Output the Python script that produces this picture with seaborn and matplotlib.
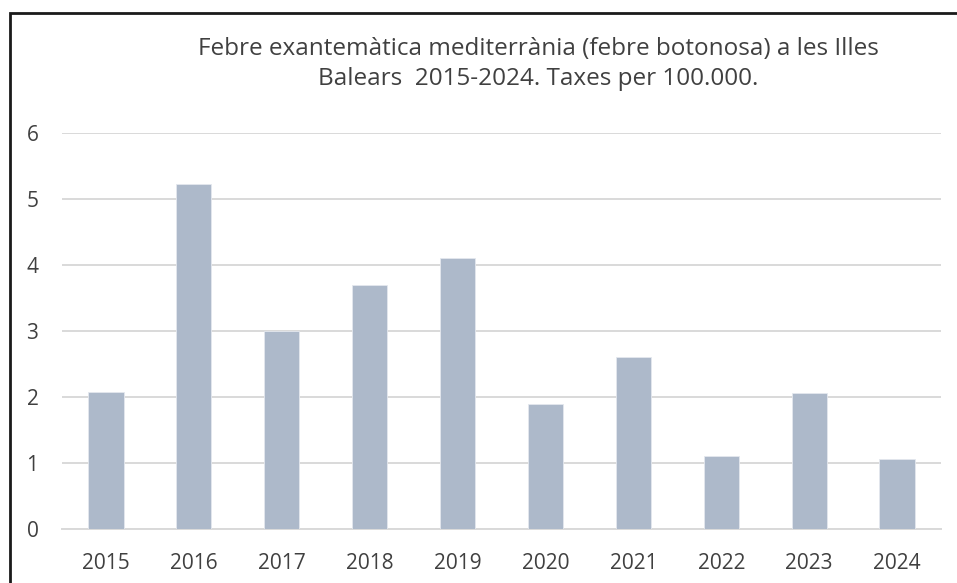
import pandas as pd
import matplotlib.pyplot as plt
import seaborn as sns
from matplotlib.patches import Rectangle

years = ['2015', '2016', '2017', '2018', '2019', '2020', '2021', '2022', '2023', '2024']
rates = [2.08, 5.23, 3.0, 3.69, 4.1, 1.9, 2.61, 1.1, 2.06, 1.06]

title = ('Febre exantemàtica mediterrània (febre botonosa) a les Illes\n'
         'Balears  2015-2024. Taxes per 100.000.')

sns.set_style('white')
plt.rcParams['font.family'] = ['Open Sans', 'DejaVu Sans']

df = pd.DataFrame({'year': years, 'rate': rates})

fig = plt.figure(figsize=(9.57, 5.83), dpi=100)
ax = fig.add_axes([62 / 957, 1 - 529 / 583, 879 / 957, 396 / 583])

sns.barplot(data=df, x='year', y='rate', color='#adb9ca', saturation=1,
            width=0.4, ax=ax, zorder=3, edgecolor='#e4e8ee', linewidth=0.6)

ax.set_ylim(0, 6)
ax.set_yticks(range(0, 7))
ax.set_xlim(-0.5, len(years) - 0.5)
ax.grid(axis='y', color='#d9d9d9', linewidth=1.4, zorder=0)
ax.set_xlabel('')
ax.set_ylabel('')
for side in ['top', 'right', 'left']:
    ax.spines[side].set_visible(False)
ax.spines['bottom'].set_color('#d9d9d9')
ax.spines['bottom'].set_linewidth(1.4)
ax.tick_params(axis='both', length=0, labelsize=15, labelcolor='#404040')
ax.tick_params(axis='y', pad=17)
ax.tick_params(axis='x', pad=17)

fig.text(538 / 957, 1 - 64 / 583, title, ha='center', va='center',
         fontsize=17.5, color='#404040', linespacing=1.35)

fig.patches.append(Rectangle((10 / 957, -0.1), 1.2, 1 - 13 / 583 + 0.1,
                             transform=fig.transFigure, fill=False,
                             edgecolor='#1a1a1a', linewidth=2))

fig.savefig('out.png', dpi=100)
